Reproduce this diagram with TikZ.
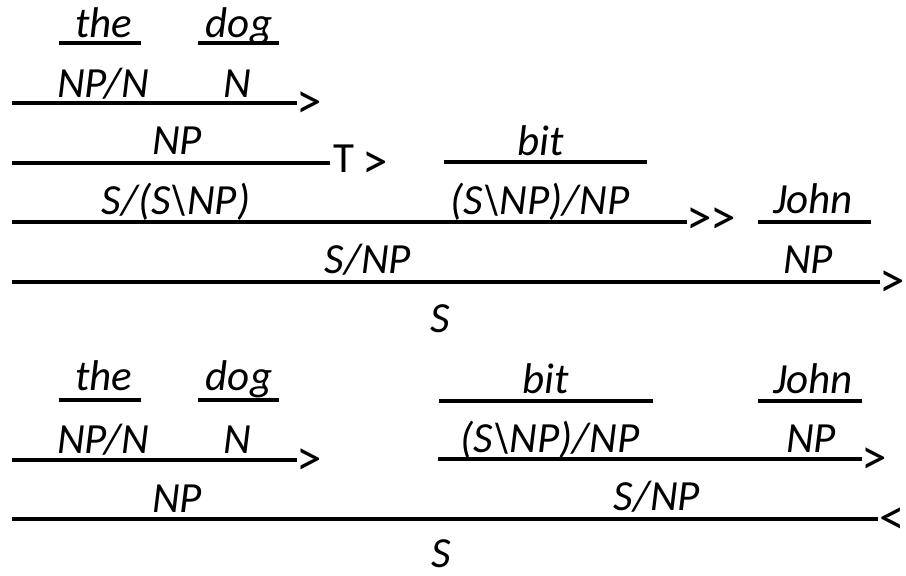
\documentclass[tikz,border=0pt]{standalone}
\usepackage{fontspec}
\setmainfont{Carlito}
\begin{document}
\begin{tikzpicture}[x=1pt,y=-1pt,
  cat/.style={anchor=base,inner sep=0pt,font=\fontsize{43}{45}\selectfont\itshape},
  rl/.style={anchor=base west,inner sep=0pt,font=\fontsize{43}{45}\selectfont},
  gt/.style={anchor=west,inner sep=0pt,font=\fontsize{51}{53}\selectfont},
  rule/.style={line width=3.5pt}]
\useasboundingbox (0,0) rectangle (906,576);
% ---------- top derivation ----------
\node[cat] (the1) at (104,37) {the};
\node[cat] (dog1) at (239,37) {dog};
\draw[rule] (59,43) -- (141,43);
\draw[rule] (198,43) -- (279,43);
\node[cat] (npn1) at (103,97) {NP/N};
\node[cat] (n1) at (237,97) {N};
\draw[rule] (12,103) -- (297,103);
\node[gt] (fa1) at (296,105) {>};
\node[cat] (np1) at (177,154) {NP};
\draw[rule] (12,163) -- (330,163);
\node[rl] (tr1) at (333,172) {T};
\node[gt] (tr2) at (362,165.5) {>};
\node[cat] (bit1) at (541,155) {bit};
\draw[rule] (444,162) -- (647,162);
\node[cat] (ssnp1) at (176,214) {S/(S\textbackslash NP)};
\node[cat] (tv1) at (540,214) {(S\textbackslash NP)/NP};
\draw[rule] (12,222) -- (687,222);
\node[gt] (fc1) at (686,221) {>\kern-1.5pt>};
\node[cat] (john1) at (813,213) {John};
\draw[rule] (758,222) -- (871,222);
\node[cat] (snp1) at (368,273) {S/NP};
\node[cat] (npj1) at (808,273) {NP};
\draw[rule] (12,282) -- (880,282);
\node[gt] (fa2) at (879,284) {>};
\node[cat] (s1) at (440,332) {S};
% ---------- bottom derivation ----------
\node[cat] (the2) at (104,390) {the};
\node[cat] (dog2) at (239,390) {dog};
\draw[rule] (59,400) -- (141,400);
\draw[rule] (198,400) -- (279,400);
\node[cat] (bit2) at (546,393) {bit};
\draw[rule] (439,401) -- (653,401);
\node[cat] (john2) at (813,393) {John};
\draw[rule] (758,401) -- (862,401);
\node[cat] (npn2) at (103,453) {NP/N};
\node[cat] (n2) at (237,453) {N};
\draw[rule] (12,460) -- (297,460);
\node[gt] (fa3) at (296,462) {>};
\node[cat] (tv2) at (550,452) {(S\textbackslash NP)/NP};
\node[cat] (npj2) at (811,452) {NP};
\draw[rule] (438,459) -- (862,459);
\node[gt] (fa4) at (861,461) {>};
\node[cat] (np2) at (177,512) {NP};
\node[cat] (snp2) at (657,510) {S/NP};
\draw[rule] (12,519) -- (878,519);
\node[gt] (ba1) at (879,521) {<};
\node[cat] (s2) at (441,567) {S};
\end{tikzpicture}
\end{document}
